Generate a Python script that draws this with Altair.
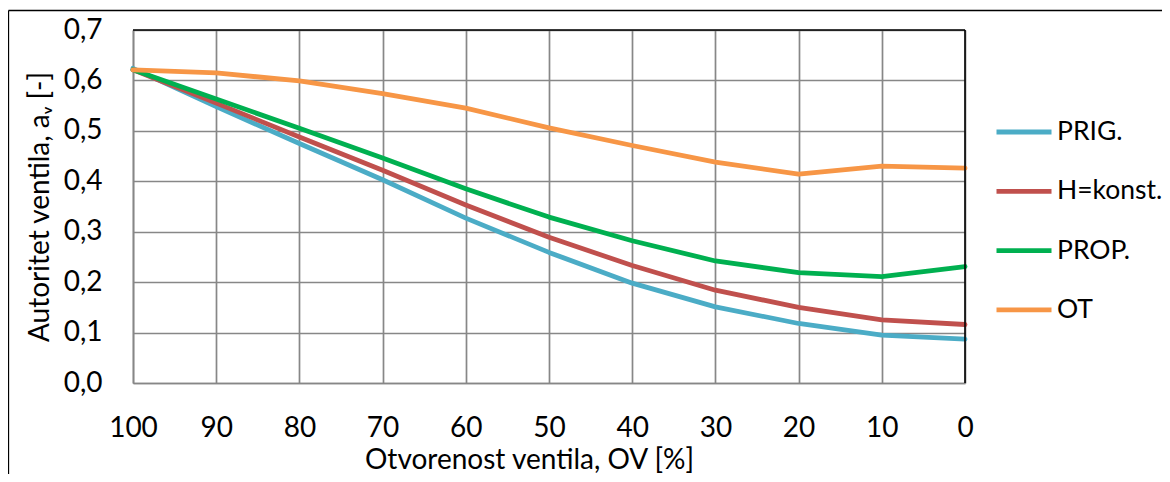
import altair as alt
import pandas as pd

otvorenost = [100, 90, 80, 70, 60, 50, 40, 30, 20, 10, 0]
prig = [0.624, 0.548, 0.475, 0.403, 0.327, 0.259, 0.198, 0.151, 0.118, 0.095, 0.087]
hkonst = [0.621, 0.555, 0.488, 0.422, 0.353, 0.289, 0.233, 0.184, 0.150, 0.125, 0.116]
prop = [0.621, 0.563, 0.505, 0.446, 0.385, 0.329, 0.282, 0.242, 0.219, 0.211, 0.231]
ot = [0.621, 0.615, 0.599, 0.574, 0.545, 0.506, 0.471, 0.438, 0.414, 0.430, 0.426]

series_names = ["PRIG.", "H=konst.", "PROP.", "OT"]
series_colors = ["#4BACC6", "#C0504D", "#00B050", "#F79646"]
x_ticks = [100, 90, 80, 70, 60, 50, 40, 30, 20, 10, 0]
y_ticks = [0.0, 0.1, 0.2, 0.3, 0.4, 0.5, 0.6, 0.7]

rows = []
for name, vals in zip(series_names, [prig, hkonst, prop, ot]):
    for xv, yv in zip(otvorenost, vals):
        rows.append({"ov": xv, "av": yv, "serija": name})
df = pd.DataFrame(rows)

FONT = "Lato"
FS = 28
GRID = "#878787"

x_scale = alt.Scale(domain=[0, 100], reverse=True, nice=False)
y_scale = alt.Scale(domain=[0, 0.7], nice=False)

x_enc = alt.X(
    "ov:Q",
    scale=x_scale,
    axis=alt.Axis(
        values=x_ticks, format="d", ticks=False, labelPadding=31, labelFlush=False,
        labelFontSize=FS, labelFont=FONT, labelColor="#000000",
        title="Otvorenost ventila, OV [%]", titleFontSize=FS, titleFont=FONT,
        titleFontWeight="normal", titleColor="#000000",
        titleX=396, titleY=85, titleBaseline="alphabetic", titleAlign="center",
        grid=True, domainColor=GRID, domainWidth=1.6, gridColor=GRID, gridWidth=1.7,
    ),
)
y_enc = alt.Y(
    "av:Q",
    scale=y_scale,
    axis=alt.Axis(
        values=y_ticks, ticks=False, labelPadding=31, labelFlush=False,
        labelExpr="replace(format(datum.value, '.1f'), '.', ',')",
        labelFontSize=FS, labelFont=FONT, labelColor="#000000",
        title="Autoritet ventila, aᵥ [-]", titleFontSize=FS, titleFont=FONT,
        titleFontWeight="normal", titleColor="#000000",
        titleAngle=-90, titleX=-85, titleBaseline="alphabetic",
        grid=True, domainColor=GRID, domainWidth=1.6, gridColor=GRID, gridWidth=1.7,
    ),
)

lines = alt.Chart(df).mark_line(strokeWidth=4.8, strokeCap="round", strokeJoin="round").encode(
    x=x_enc,
    y=y_enc,
    color=alt.Color(
        "serija:N",
        scale=alt.Scale(domain=series_names, range=series_colors),
        legend=alt.Legend(
            title=None, orient="none", legendX=861, legendY=72,
            symbolType="stroke", symbolSize=3025, symbolStrokeWidth=4.8,
            labelFontSize=26.5, labelFont=FONT, labelColor="#000000",
            labelOffset=3, rowPadding=15.3, labelLimit=300,
        ),
    ),
    detail="serija:N",
)

one = pd.DataFrame({"k": [0]})
top_rule = alt.Chart(one).mark_rule(color="#000000", strokeWidth=1.6).encode(
    y=alt.Y(datum=0.7, scale=y_scale)
)
right_rule = alt.Chart(one).mark_rule(color="#000000", strokeWidth=1.6).encode(
    x=alt.X(datum=0, scale=x_scale)
)
frame_left = alt.Chart(one).mark_rule(color="#000000", strokeWidth=1.3).encode(
    x=alt.value(-124.5), y=alt.value(-19.5), y2=alt.value(600)
)
frame_top = alt.Chart(one).mark_rule(color="#000000", strokeWidth=1.3).encode(
    x=alt.value(-124.5), x2=alt.value(1200), y=alt.value(-19.5)
)

chart = alt.layer(lines, top_rule, right_rule, frame_left, frame_top).properties(
    width=832, height=353,
    autosize=alt.AutoSizeParams(type="none"),
    padding={"left": 125, "top": 22, "right": 197, "bottom": 91},
    background="#ffffff",
).configure_view(stroke=None)

chart.save("out.html", embed_options={"renderer": "svg", "actions": False})
